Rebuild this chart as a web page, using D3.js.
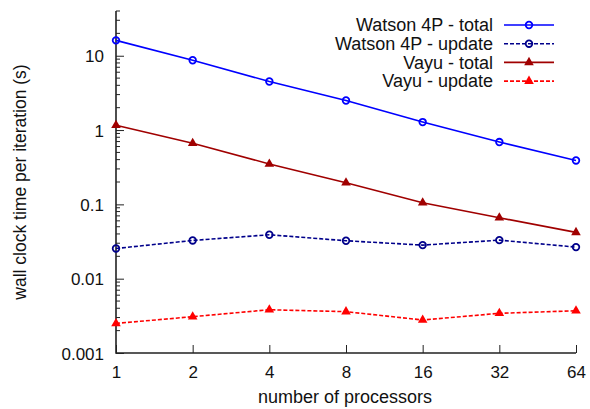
<!DOCTYPE html>
<html>
<head>
<meta charset="utf-8">
<script src="https://cdn.jsdelivr.net/npm/d3@7"></script>
<style>
  body { margin: 0; background: #fff; }
  text { font-family: "Liberation Sans", Arial, sans-serif; fill: #111; }
</style>
</head>
<body>
<svg id="chart" width="590" height="409"></svg>
<script>
// processors on x, time per iteration on y (log)
var procs = [1, 2, 4, 8, 16, 32, 64]
var watsonTotal  = [16.1, 8.7, 4.5, 2.5, 1.28, 0.69, 0.39]
var watsonUpdate = [0.0255, 0.0327, 0.039, 0.0324, 0.0283, 0.033, 0.0266]
var vayuTotal    = [1.16, 0.665, 0.35, 0.195, 0.105, 0.066, 0.042]
var vayuUpdate   = [0.0025, 0.00308, 0.00382, 0.0036, 0.00278, 0.00342, 0.0037]
var seriesNames  = ["Watson 4P - total", "Watson 4P - update", "Vayu - total", "Vayu - update"]
var yTicks = [0.001, 0.01, 0.1, 1, 10]

var series = [
  {name: seriesNames[0], values: watsonTotal,  color: "#0000ff", dash: null,  marker: "circle"},
  {name: seriesNames[1], values: watsonUpdate, color: "#00008b", dash: "4,2", marker: "circle"},
  {name: seriesNames[2], values: vayuTotal,    color: "#a00000", dash: null,  marker: "triangle"},
  {name: seriesNames[3], values: vayuUpdate,   color: "#ff0000", dash: "4,2", marker: "triangle"}
]

var margin = {top: 11, right: 14, bottom: 56, left: 116},
    width = 590 - margin.left - margin.right,
    height = 409 - margin.top - margin.bottom

var svg = d3.select("#chart")
var g = svg.append("g").attr("transform", "translate(" + margin.left + "," + margin.top + ")")

var x = d3.scaleLog().base(2).domain([1, 64]).range([0, width])
var y = d3.scaleLog().domain([0.001, 40]).range([height, 0])

// minor y ticks
var minor = []
yTicks.forEach(function(t){
  for (var k = 2; k <= 9; k++) { if (t * k <= 40) minor.push(t * k) }
})
g.selectAll(".minor").data(minor)
  .enter().append("line")
    .attr("x1", 0).attr("x2", 4)
    .attr("y1", function(d){ return y(d) }).attr("y2", function(d){ return y(d) })
    .attr("stroke", "#222").attr("stroke-width", 1)

// y axis, ticks inward
var yAxis = g.append("g")
  .call(d3.axisRight(y).tickValues(yTicks).tickSize(8).tickFormat(function(d){ return String(d) }))
yAxis.select(".domain").remove()
yAxis.selectAll("line").attr("stroke", "#222").attr("stroke-width", 1)
yAxis.selectAll("text")
  .attr("x", -12).attr("dy", "0.36em")
  .attr("text-anchor", "end")
  .style("font-size", "17px")

// x axis, ticks inward
var xAxis = g.append("g").attr("transform", "translate(0," + height + ")")
  .call(d3.axisTop(x).tickValues(procs).tickSize(8).tickFormat(d3.format("d")))
xAxis.select(".domain").remove()
xAxis.selectAll("line").attr("stroke", "#222").attr("stroke-width", 1)
xAxis.selectAll("text")
  .attr("y", 25).attr("dy", "0")
  .style("font-size", "17px")

// border (left + bottom)
g.append("path")
  .attr("d", "M0,0V" + height + "H" + width)
  .attr("fill", "none").attr("stroke", "#222").attr("stroke-width", 1.6)

// axis titles
svg.append("text")
  .attr("x", 345).attr("y", 403)
  .attr("text-anchor", "middle").style("font-size", "18px")
  .text("number of processors")
svg.append("text")
  .attr("transform", "translate(26,182) rotate(-90)")
  .attr("text-anchor", "middle").style("font-size", "17.5px")
  .text("wall clock time per iteration (s)")

var line = d3.line()
  .x(function(d, i){ return x(procs[i]) })
  .y(function(d){ return y(d) })

var tri = d3.symbol().type(d3.symbolTriangle).size(40)

function drawMarkers(sel, s) {
  if (s.marker === "circle") {
    sel.append("circle").attr("r", 3.3)
      .attr("fill", "none").attr("stroke", s.color).attr("stroke-width", 1.8)
  } else {
    sel.append("path").attr("d", tri).attr("fill", s.color)
  }
}

series.forEach(function(s){
  g.append("path")
    .datum(s.values)
    .attr("d", line)
    .attr("fill", "none")
    .attr("stroke", s.color)
    .attr("stroke-width", 1.6)
    .attr("stroke-dasharray", s.dash)
  g.selectAll(null).data(s.values)
    .enter().append("g")
      .attr("transform", function(d, i){ return "translate(" + x(procs[i]) + "," + y(d) + ")" })
      .each(function(){ drawMarkers(d3.select(this), s) })
})

// legend
var legend = svg.append("g")
var rows = legend.selectAll("g").data(series)
  .enter().append("g")
    .attr("transform", function(d, i){ return "translate(0," + (25 + i * 18.7) + ")" })
rows.append("text")
  .attr("x", 493).attr("dy", "0.35em")
  .attr("text-anchor", "end").style("font-size", "18px")
  .text(function(d){ return d.name })
rows.append("line")
  .attr("x1", 504).attr("x2", 554)
  .attr("stroke", function(d){ return d.color })
  .attr("stroke-width", 1.6)
  .attr("stroke-dasharray", function(d){ return d.dash })
rows.append("g")
  .attr("transform", "translate(529,0)")
  .each(function(d){ drawMarkers(d3.select(this), d) })
</script>
</body>
</html>
